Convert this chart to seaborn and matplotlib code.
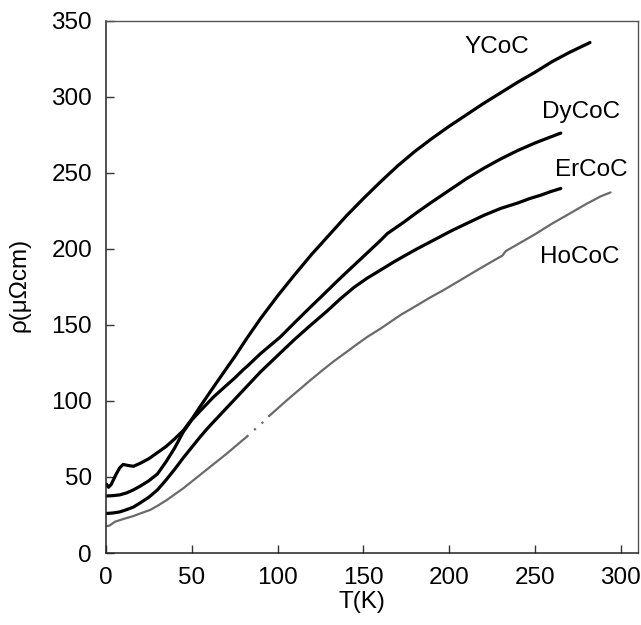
import numpy as np
import pandas as pd
import matplotlib
matplotlib.use("Agg")
import matplotlib.pyplot as plt
import seaborn as sns

# Resistivity curves rho(T) for the RCoC compounds
t_ycoc = [0.5, 1.5, 3, 6, 8, 10, 13, 16, 20, 25, 30, 35, 40, 45, 50, 55, 62.6, 70, 75,
          82, 90, 100, 110, 120, 130, 140, 150, 160, 170, 180, 190, 200, 210, 220, 230,
          240, 250, 260, 270, 282]
rho_ycoc = [45, 43.2, 45, 52, 56, 58.2, 57.5, 57, 59, 62, 66, 70, 75, 80.5, 88, 96.5, 109,
            121, 129, 141, 154, 169, 183, 196.5, 209, 221.5, 233, 244, 254.5, 264, 272.5,
            280.5, 288, 295.5, 302.5, 309.5, 316, 323, 329, 335.5]

t_dycoc = [0.5, 4, 8, 12, 16, 20, 25, 30, 35, 40, 45, 50, 55, 62.6, 70, 75, 80, 83, 90,
           101.6, 110, 119, 125, 135, 144.4, 152, 160, 164, 173.6, 181.4, 189, 200.8, 210,
           220.3, 230, 239.8, 250, 258, 265]
rho_dycoc = [37.5, 37.7, 38.2, 39.5, 41.5, 44, 47.5, 52, 60, 69, 79.5, 87.5, 93.5, 102.5,
             110, 115, 120.5, 123.5, 131, 142, 151.5, 161.5, 168, 179, 189, 197, 205.5, 210,
             217.5, 224, 230, 239, 246, 253, 259, 264.5, 269.5, 273, 276]

t_ercoc = [0.5, 4, 8, 12, 16, 20, 25, 30, 35, 40, 45, 50, 55, 60, 65, 70, 75, 80, 85, 90,
           101.6, 110, 119, 128.8, 136, 144.4, 152, 160, 168, 175, 181.4, 189, 200.8, 210,
           220.3, 230, 239.8, 247, 253.4, 259, 265]
rho_ercoc = [26, 26.3, 27, 28.5, 30.2, 33, 36.7, 41.5, 48, 55, 62.5, 69.5, 76.5, 83, 89, 95,
             101, 107, 113, 119, 131.5, 140.5, 149.5, 159, 166.5, 174.5, 180.5, 186, 191.5,
             196, 200, 204.5, 211.5, 216.5, 222, 226.5, 230, 233, 235.2, 237.5, 239.6]

t_hococ = [0.5, 2, 5.3, 10, 16, 20, 25.7, 30, 35.4, 40, 45, 50, 55, 60, 65, 70, 74, 78, 82,
           85, 88, 91, 95, 100, 106, 113.3, 119, 126, 132.7, 140, 146, 152.2, 160, 171.6,
           180, 189, 197, 206, 216.4, 224, 231, 233, 240, 250, 259.2, 270, 280, 288.4, 294]
rho_hococ = [17.7, 18, 20.6, 22.3, 24.3, 26, 28.3, 31, 34.8, 38.5, 42.5, 47, 51.5, 56, 60.5,
             65, 68.8, 72.6, 76.4, 79.5, 82.5, 85.5, 90, 95, 101, 108, 113.5, 120, 126, 132,
             137, 142, 147.5, 156.4, 162, 168, 173, 179, 186, 191, 195.5, 198.5, 203, 209.5,
             216, 223, 229.5, 234.5, 237]

compounds = ["YCoC", "DyCoC", "ErCoC", "HoCoC"]
label_T = [228, 276.7, 283, 275.8]
label_rho = [332.5, 290, 251.6, 194.5]

x_ticks = [0, 50, 100, 150, 200, 250, 300]
y_ticks = [0, 50, 100, 150, 200, 250, 300, 350]

sns.set_theme(style="white")
plt.rcParams["font.family"] = ["Liberation Sans", "DejaVu Sans"]
FS = 17.5

fig = plt.figure(figsize=(6.41, 6.25), dpi=100)
ax = fig.add_axes([106 / 641, 1 - 553 / 625, 532 / 641, 532.5 / 625])

black_kw = dict(color="black", linewidth=2.3, estimator=None, sort=False, ax=ax)
for t, r in [(t_ycoc, rho_ycoc), (t_dycoc, rho_dycoc), (t_ercoc, rho_ercoc)]:
    sns.lineplot(x=t, y=r, **black_kw)

# HoCoC: grey trace, with a sparse (dotted) stretch between ~82 K and ~95 K
ho = pd.DataFrame({"T": t_hococ, "rho": rho_hococ})
grey_kw = dict(color="#6a6a6a", estimator=None, sort=False, ax=ax)
low = ho[ho["T"] <= 82]
mid = ho[(ho["T"] >= 82) & (ho["T"] <= 95)]
high = ho[ho["T"] >= 95]
sns.lineplot(data=low, x="T", y="rho", linewidth=1.6, **grey_kw)
sns.lineplot(data=high, x="T", y="rho", linewidth=1.6, **grey_kw)
sns.lineplot(data=mid, x="T", y="rho", linewidth=1.6, linestyle=(0, (1, 3.5)), **grey_kw)

for name, tx, ty in zip(compounds, label_T, label_rho):
    ax.text(tx, ty, name, fontsize=FS, ha="center", va="center", color="black")

ax.set_xlim(0, 310)
ax.set_ylim(0, 350)
ax.set_xticks(x_ticks)
ax.set_yticks(y_ticks)
ax.tick_params(axis="both", which="major", direction="in", length=6, width=1,
               color="#333333", labelsize=FS, pad=10, labelcolor="black",
               bottom=True, left=True, top=False, right=False)

for side in ["left", "bottom"]:
    ax.spines[side].set_color("#222222")
    ax.spines[side].set_linewidth(1.1)
for side in ["top", "right"]:
    ax.spines[side].set_color("#555555")
    ax.spines[side].set_linewidth(1.0)

ax.set_xlabel("T(K)", fontsize=FS, color="black")
ax.set_ylabel("ρ(μΩcm)", fontsize=FS, color="black")
ax.xaxis.set_label_coords(0.481, -0.071)
ax.yaxis.set_label_coords(-0.142, 0.503)
ax.grid(False)

fig.savefig("out.png", dpi=100)
